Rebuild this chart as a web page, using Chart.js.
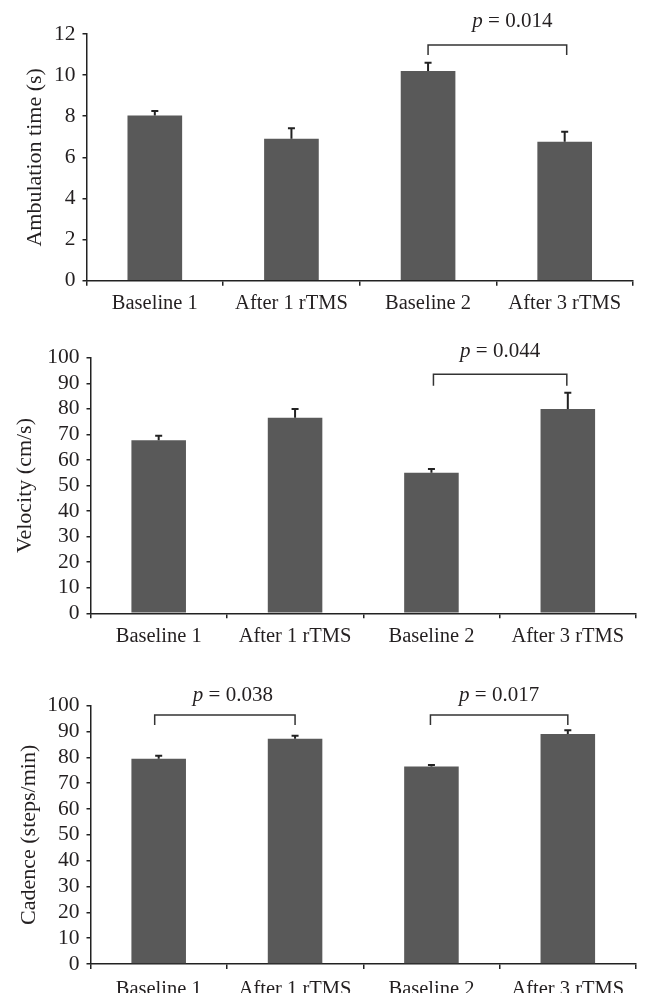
<!DOCTYPE html>
<html><head><meta charset="utf-8">
<script src="https://cdn.jsdelivr.net/npm/chart.js@4/dist/chart.umd.min.js"></script>
<style>
html,body{margin:0;padding:0;background:#fff;}
body{width:651px;height:1005px;position:relative;overflow:hidden;}
canvas{position:absolute;left:0;}
</style></head><body>
<canvas id="c1" width="651" height="320" style="top:0px"></canvas>
<canvas id="c2" width="651" height="340" style="top:320px"></canvas>
<canvas id="c3" width="651" height="333" style="top:660px"></canvas>
<script>
// ---- data ----
const categories = ['Baseline 1', 'After 1 rTMS', 'Baseline 2', 'After 3 rTMS'];
const ambulationMean = [8.03, 6.90, 10.20, 6.76];
const ambulationSE   = [0.23, 0.52, 0.40, 0.49];
const velocityMean   = [67.7, 76.5, 55.0, 79.9];
const velocitySE     = [1.8, 3.4, 1.5, 6.4];
const cadenceMean    = [79.5, 87.2, 76.5, 89.0];
const cadenceSE      = [1.1, 1.2, 0.5, 1.5];
const ambulationTicks = [0, 2, 4, 6, 8, 10, 12];
const velocityTicks   = [0, 10, 20, 30, 40, 50, 60, 70, 80, 90, 100];
const cadenceTicks    = [0, 10, 20, 30, 40, 50, 60, 70, 80, 90, 100];
const ambulationP = ['0.014'];
const velocityP   = ['0.044'];
const cadenceP    = ['0.038', '0.017'];

// ---- style ----
const FONT = '"Liberation Serif", "Times New Roman", serif';
const INK = '#231f20';
const BAR = '#595959';

const errPlugin = {
  id: 'errbars',
  afterDatasetsDraw(chart, args, opts) {
    const ctx = chart.ctx, x = chart.scales.x, y = chart.scales.y;
    const meta = chart.getDatasetMeta(0);
    const data = chart.data.datasets[0].data;
    ctx.save();
    ctx.strokeStyle = '#222';
    ctx.lineWidth = 2;
    opts.errors.forEach((e, i) => {
      const px = meta.data[i].x;
      const y0 = y.getPixelForValue(data[i]);
      const y1 = y.getPixelForValue(data[i] + e);
      ctx.beginPath();
      ctx.moveTo(px, y0); ctx.lineTo(px, y1);
      ctx.moveTo(px - 3.5, y1); ctx.lineTo(px + 3.5, y1);
      ctx.stroke();
    });
    (opts.brackets || []).forEach(b => {
      const x1 = x.getPixelForValue(b.from) + (b.dx1 || 0);
      const x2 = x.getPixelForValue(b.to) + (b.dx2 || 0);
      const yt = y.getPixelForValue(b.top), yb = y.getPixelForValue(b.end);
      ctx.strokeStyle = '#333';
      ctx.lineWidth = 1.5;
      ctx.beginPath();
      ctx.moveTo(x1, yb); ctx.lineTo(x1, yt); ctx.lineTo(x2, yt); ctx.lineTo(x2, yb);
      ctx.stroke();
      const ty = y.getPixelForValue(b.textY);
      const cx = (x1 + x2) / 2 + (b.textDx || 0);
      const fi = 'italic 21px ' + FONT, fn = '21px ' + FONT;
      const rest = ' = ' + b.p;
      ctx.font = fi; const w1 = ctx.measureText('p').width;
      ctx.font = fn; const w2 = ctx.measureText(rest).width;
      const sx = cx - (w1 + w2) / 2;
      ctx.fillStyle = INK;
      ctx.textBaseline = 'middle';
      ctx.textAlign = 'left';
      ctx.font = fi; ctx.fillText('p', sx, ty);
      ctx.font = fn; ctx.fillText(rest, sx + w1, ty);
    });
    ctx.restore();
  }
};

function makeChart(id, canvasTop, canvasH, area, means, ses, ticks, yMax, title, titleCenterX, labelPad, brackets) {
  const xH = canvasTop + canvasH - area.bottom; // remaining below axis
  return new Chart(document.getElementById(id), {
    type: 'bar',
    data: {
      labels: categories,
      datasets: [{ data: means, backgroundColor: BAR, borderWidth: 0,
                   barPercentage: 0.4, categoryPercentage: 1.0 }]
    },
    options: {
      responsive: false, animation: false,
      layout: { padding: { left: 0, right: 651 - area.right, top: area.top - canvasTop, bottom: 0 } },
      plugins: { legend: { display: false }, tooltip: { enabled: false },
                 errbars: { errors: ses, brackets: brackets } },
      scales: {
        x: {
          offset: true,
          grid: { offset: true, drawOnChartArea: false, drawTicks: true, tickLength: 5, color: '#222', lineWidth: 1.5 },
          border: { display: true, color: '#222', width: 1.5 },
          ticks: { autoSkip: false, maxRotation: 0, minRotation: 0, padding: labelPad, color: INK,
                   font: { family: FONT, size: 20.5 } },
          afterFit: s => { s.height = xH; }
        },
        y: {
          min: 0, max: yMax,
          afterBuildTicks: s => { s.ticks = ticks.map(v => ({ value: v })); },
          afterFit: s => { s.width = area.left; },
          grid: { drawOnChartArea: false, drawTicks: true, tickLength: 4, color: '#222', lineWidth: 1.5 },
          border: { display: true, color: '#222', width: 1.5 },
          ticks: { autoSkip: false, padding: 7, color: INK, font: { family: FONT, size: 21.5 } },
          title: { display: true, text: title, color: INK, font: { family: FONT, size: 22 },
                   padding: { top: titleCenterX - 13.2, bottom: 0 } }
        }
      }
    },
    plugins: [errPlugin]
  });
}

makeChart('c1', 0, 320, { left: 86.5, right: 633, top: 34, bottom: 280.7 },
  ambulationMean, ambulationSE, ambulationTicks, 12, 'Ambulation time (s)', 35, 6,
  [{ from: 2, to: 3, top: 11.47, end: 10.98, textY: 12.6, p: ambulationP[0], dx2: 2, textDx: 15 }]);

makeChart('c2', 320, 340, { left: 90.5, right: 636, top: 357.7, bottom: 613.3 },
  velocityMean, velocitySE, velocityTicks, 100, 'Velocity (cm/s)', 25, 6,
  [{ from: 2, to: 3, top: 93.5, end: 89.0, textY: 102.3, p: velocityP[0], dx1: 2, dx2: -1 }]);

makeChart('c3', 660, 333, { left: 90.5, right: 636, top: 705.7, bottom: 964 },
  cadenceMean, cadenceSE, cadenceTicks, 100, 'Cadence (steps/min)', 29, 8,
  [{ from: 0, to: 1, top: 96.4, end: 92.5, textY: 104.1, p: cadenceP[0], dx1: -4, textDx: 8 },
   { from: 2, to: 3, top: 96.4, end: 92.5, textY: 104.1, p: cadenceP[1], dx1: -1 }]);
</script>
</body></html>
